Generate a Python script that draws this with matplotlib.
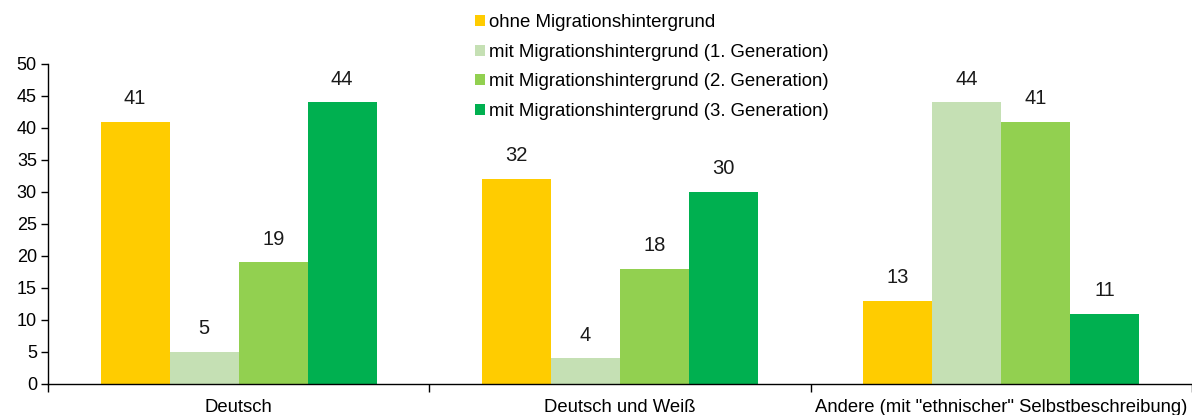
import numpy as np
import matplotlib.pyplot as plt
from matplotlib.ticker import FixedLocator

plt.rcParams['font.family'] = ['Liberation Sans', 'DejaVu Sans']

kategorien = ['Deutsch', 'Deutsch und Weiß', 'Andere (mit "ethnischer" Selbstbeschreibung)']
serien = ['ohne Migrationshintergrund',
          'mit Migrationshintergrund (1. Generation)',
          'mit Migrationshintergrund (2. Generation)',
          'mit Migrationshintergrund (3. Generation)']
ohne = [41, 32, 13]
gen1 = [5, 4, 44]
gen2 = [19, 18, 41]
gen3 = [44, 30, 11]
farben = ['#FFCC00', '#C5E0B4', '#92D050', '#00B050']

werte = [ohne, gen1, gen2, gen3]

fig = plt.figure(figsize=(11.92, 4.15), dpi=100)
ax = fig.add_axes([0.0403, 0.0747, 0.9597, 0.7711])

x = np.arange(len(kategorien))
w = 0.181
for i, (name, v, f) in enumerate(zip(serien, werte, farben)):
    pos = x + (i - 1.5) * w
    bars = ax.bar(pos, v, w, color=f, label=name)
    for b, val in zip(bars, v):
        ax.annotate(str(val), (b.get_x() + b.get_width() / 2, b.get_height()),
                    xytext=(0, 10), textcoords='offset points',
                    ha='center', va='bottom', fontsize=14.5, color='#1a1a1a')

ax.set_xlim(-0.5, len(kategorien) - 0.5)
ax.set_ylim(0, 50)
ax.set_yticks(range(0, 51, 5))
ax.tick_params(axis='y', labelsize=13, length=5, width=1, pad=3)
ax.set_xticks(x)
ax.set_xticklabels(kategorien)
ax.tick_params(axis='x', which='major', length=0, labelsize=13.3, pad=11)
ax.xaxis.set_minor_locator(FixedLocator([-0.5, 0.5, 1.5, 2.5]))
ax.tick_params(axis='x', which='minor', length=6, width=1)

for s in ['top', 'right']:
    ax.spines[s].set_visible(False)
for s in ['left', 'bottom']:
    ax.spines[s].set_linewidth(1)

ax.legend(loc='upper left', bbox_to_anchor=(475 / 1192, 1 - 14 / 415),
          bbox_transform=fig.transFigure,
          frameon=False, fontsize=13.4, handlelength=0.54, handleheight=0.54,
          handletextpad=0.2, labelspacing=0.68, borderaxespad=0, borderpad=0)

fig.savefig('out.png', dpi=100)
